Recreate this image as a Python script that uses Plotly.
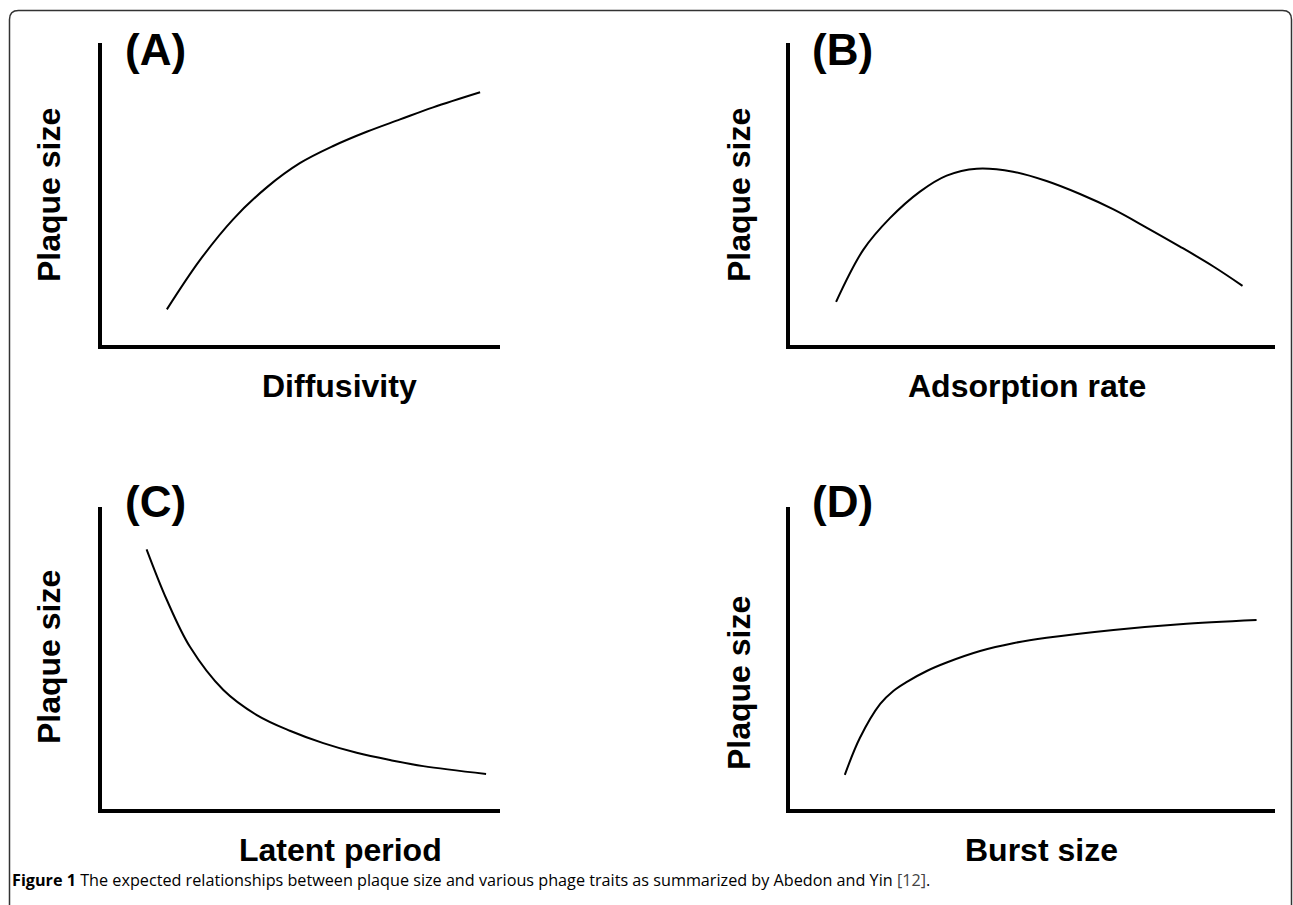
import plotly.graph_objects as go

W, H = 1293, 905

# ---- data (arbitrary units, 0-100 on each axis) ----
panel_labels = ["(A)", "(B)", "(C)", "(D)"]
x_titles = ["Diffusivity", "Adsorption rate", "Latent period", "Burst size"]
y_title = "Plaque size"

a_x = [16.3, 24.6, 33.0, 41.4, 49.7, 58.1, 66.5, 74.9, 83.2, 95.0]
a_y = [11.8, 28.1, 41.7, 52.2, 60.2, 65.9, 70.6, 74.7, 78.7, 83.7]

b_x = [9.5, 15.1, 20.6, 26.8, 32.3, 38.5, 46.0, 52.9, 59.8, 66.7, 73.5, 80.4, 87.3, 93.3]
b_y = [14.3, 31.5, 42.0, 50.8, 56.1, 58.4, 57.4, 54.3, 50.0, 44.9, 38.9, 32.6, 26.0, 19.6]

c_x = [11.2, 16.3, 22.1, 30.5, 38.9, 47.2, 55.6, 64.0, 72.4, 80.7, 96.5]
c_y = [86.0, 69.2, 53.7, 39.4, 31.1, 25.9, 21.8, 18.6, 16.2, 14.2, 11.6]

d_x = [11.3, 14.4, 18.6, 21.3, 24.1, 28.2, 32.3, 39.2, 46.0, 52.9, 66.7, 80.4, 96.2]
d_y = [11.3, 23.5, 34.8, 39.1, 42.1, 45.7, 48.5, 52.3, 54.9, 56.7, 59.3, 61.2, 62.6]

caption_bold = "Figure 1"
caption_text = " The expected relationships between plaque size and various phage traits as summarized by Abedon and Yin"
caption_ref = "[12]"

series = [(a_x, a_y), (b_x, b_y), (c_x, c_y), (d_x, d_y)]

# ---- layout geometry (pixels) ----
def px_x(p):
    return p / W

def px_y(p):
    return 1 - p / H

x_domains = [(102, 500), (790, 1275), (102, 500), (790, 1275)]
y_domains = [(345, 43), (345, 43), (809, 507), (809, 507)]

FONT = "Liberation Sans, Arial, Helvetica, sans-serif"

fig = go.Figure()
layout = dict(
    width=W, height=H,
    margin=dict(l=0, r=0, t=0, b=0),
    paper_bgcolor="white", plot_bgcolor="white",
    showlegend=False,
)

for i, (xs, ys) in enumerate(series):
    n = "" if i == 0 else str(i + 1)
    fig.add_trace(go.Scatter(
        x=xs, y=ys, mode="lines",
        line=dict(color="black", width=2, shape="spline", smoothing=1.0),
        xaxis="x" + n, yaxis="y" + n, hoverinfo="skip",
    ))
    ax = dict(showline=True, linewidth=4, linecolor="black", showticklabels=False,
              ticks="", showgrid=False, zeroline=False, range=[0, 100], fixedrange=True)
    x0, x1 = x_domains[i]
    yb, yt = y_domains[i]
    layout["xaxis" + n] = dict(ax, domain=[px_x(x0), px_x(x1)], anchor="y" + n)
    layout["yaxis" + n] = dict(ax, domain=[px_y(yb), px_y(yt)], anchor="x" + n)

fig.update_layout(**layout)

# panel labels
label_pos = [(123, 50), (810, 50), (123, 502), (810, 502)]
for lab, (lx, ly) in zip(panel_labels, label_pos):
    fig.add_annotation(text="<b>%s</b>" % lab, x=px_x(lx), y=px_y(ly), xref="paper", yref="paper",
                       xanchor="left", yanchor="middle", showarrow=False,
                       font=dict(family=FONT, size=44, color="black"))

# x titles
xt_pos = [(339, 386), (1027, 386), (340, 850), (1041, 850)]
for t, (tx, ty) in zip(x_titles, xt_pos):
    fig.add_annotation(text="<b>%s</b>" % t, x=px_x(tx), y=px_y(ty), xref="paper", yref="paper",
                       xanchor="center", yanchor="middle", showarrow=False,
                       font=dict(family=FONT, size=32, color="black"))

# y titles
yt_pos = [(49, 195), (739, 195), (49, 657), (739, 683)]
for (tx, ty) in yt_pos:
    fig.add_annotation(text="<b>%s</b>" % y_title, x=px_x(tx), y=px_y(ty), xref="paper", yref="paper",
                       xanchor="center", yanchor="middle", showarrow=False, textangle=-90,
                       font=dict(family=FONT, size=32, color="black"))

# caption
fig.add_annotation(
    text="<b>%s</b>%s <span style='color:#444'>%s</span>." % (caption_bold, caption_text, caption_ref),
    x=px_x(10), y=px_y(880), xref="paper", yref="paper",
    xanchor="left", yanchor="middle", showarrow=False,
    font=dict(family="Open Sans, Noto Sans, sans-serif", size=16.2, color="black"))

# frame with rounded top corners
r = 9
fx0, fy0, fx1 = 9.5, 10.5, 1291.5
path = ("M %f,%f L %f,%f Q %f,%f %f,%f L %f,%f Q %f,%f %f,%f L %f,%f" % (
    px_x(fx0), px_y(H + 5),
    px_x(fx0), px_y(fy0 + r),
    px_x(fx0), px_y(fy0), px_x(fx0 + r), px_y(fy0),
    px_x(fx1 - r), px_y(fy0),
    px_x(fx1), px_y(fy0), px_x(fx1), px_y(fy0 + r),
    px_x(fx1), px_y(H + 5)))
fig.add_shape(type="path", path=path, xref="paper", yref="paper",
              line=dict(color="#333333", width=1.5))

fig.write_html("out.html", config={"displayModeBar": False},
               post_script="document.body.style.margin='0';")
